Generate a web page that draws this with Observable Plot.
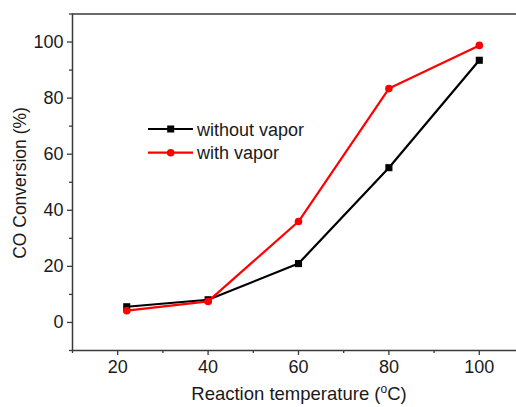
<!DOCTYPE html>
<html>
<head>
<meta charset="utf-8">
<script src="https://cdn.jsdelivr.net/npm/d3@7"></script>
<script src="https://cdn.jsdelivr.net/npm/@observablehq/plot@0.6"></script>
<style>
html, body { margin: 0; padding: 0; background: #fff; }
#chart svg { display: block; }
</style>
</head>
<body>
<div id="chart"></div>
<script>
const temperatures = [22, 40, 60, 80, 100];
const withoutVapor = [5.6, 8.1, 21.0, 55.2, 93.5];
const withVapor = [4.2, 7.5, 36.0, 83.4, 98.8];
const seriesNames = ["without vapor", "with vapor"];
const seriesColors = ["#000000", "#ff0000"];
const seriesSymbols = ["square", "circle"];
const xTicks = [20, 40, 60, 80, 100];
const xMinorTicks = [10, 30, 50, 70, 90, 110];
const yTicks = [0, 20, 40, 60, 80, 100];
const yMinorTicks = [-10, 10, 30, 50, 70, 90, 110];

const rowsWithout = temperatures.map((t, i) => ({t, v: withoutVapor[i]}));
const rowsWith = temperatures.map((t, i) => ({t, v: withVapor[i]}));

const axisColor = "#3a3a3a";
const font = "'Liberation Sans', Arial, sans-serif";

const svg = Plot.plot({
  width: 516,
  height: 407,
  marginLeft: 72,
  marginTop: 13.5,
  marginBottom: 57,
  marginRight: -8,
  x: {domain: [10, 110]},
  y: {domain: [-10, 110]},
  style: {fontFamily: font, fontSize: "18px", color: "#1a1a1a", background: "#fff"},
  marks: [
    Plot.axisX({ticks: xTicks, tickSize: 5, tickPadding: 5, label: null, stroke: axisColor, strokeWidth: 1.3, fontSize: 18}),
    Plot.axisX({ticks: xMinorTicks, tickSize: 3, text: null, label: null, stroke: axisColor, strokeWidth: 1.3}),
    Plot.axisY({ticks: yTicks, tickSize: 5, tickPadding: 4, label: null, stroke: axisColor, strokeWidth: 1.3, fontSize: 18}),
    Plot.axisY({ticks: yMinorTicks, tickSize: 3, text: null, label: null, stroke: axisColor, strokeWidth: 1.3}),
    Plot.ruleY([-10], {stroke: axisColor, strokeWidth: 1.5}),
    Plot.ruleY([110], {stroke: axisColor, strokeWidth: 1.5}),
    Plot.ruleX([10], {stroke: axisColor, strokeWidth: 1.5}),
    Plot.line(rowsWithout, {x: "t", y: "v", stroke: seriesColors[0], strokeWidth: 2.2}),
    Plot.dot(rowsWithout, {x: "t", y: "v", symbol: seriesSymbols[0], r: 4, fill: seriesColors[0], stroke: "none"}),
    Plot.line(rowsWith, {x: "t", y: "v", stroke: seriesColors[1], strokeWidth: 2.2}),
    Plot.dot(rowsWith, {x: "t", y: "v", symbol: seriesSymbols[1], r: 3.8, fill: seriesColors[1], stroke: "none"})
  ]
});

document.getElementById("chart").appendChild(svg);

const s = d3.select(svg);
// axis titles
s.append("text")
  .attr("transform", "translate(26,183) rotate(-90)")
  .attr("text-anchor", "middle")
  .attr("font-family", font)
  .attr("font-size", 17.5)
  .attr("fill", "#1a1a1a")
  .text("CO Conversion (%)");

const xl = s.append("text")
  .attr("x", 299)
  .attr("y", 400)
  .attr("text-anchor", "middle")
  .attr("font-family", font)
  .attr("font-size", 18.5)
  .attr("fill", "#1a1a1a");
xl.append("tspan").text("Reaction temperature (");
xl.append("tspan").attr("dy", -7).attr("font-size", 12).text("o");
xl.append("tspan").attr("dy", 7).text("C)");

// legend
const lg = s.append("g");
seriesNames.forEach((name, i) => {
  const y = 129 + i * 23.7;
  lg.append("line").attr("x1", 148).attr("x2", 193).attr("y1", y).attr("y2", y)
    .attr("stroke", seriesColors[i]).attr("stroke-width", 2.2);
  if (seriesSymbols[i] === "square") {
    lg.append("rect").attr("x", 170.7 - 3.5).attr("y", y - 3.5).attr("width", 7).attr("height", 7).attr("fill", seriesColors[i]);
  } else {
    lg.append("circle").attr("cx", 170.7).attr("cy", y).attr("r", 3.8).attr("fill", seriesColors[i]);
  }
  lg.append("text").attr("x", 197).attr("y", y + 6.5)
    .attr("text-anchor", "start")
    .attr("font-family", font).attr("font-size", 18).attr("fill", "#1a1a1a")
    .text(name);
});
</script>
</body>
</html>
